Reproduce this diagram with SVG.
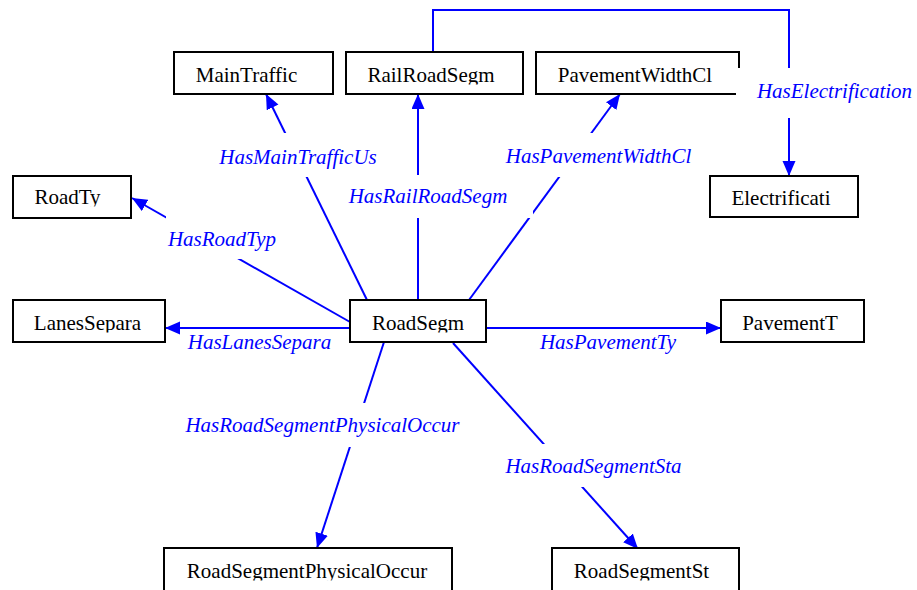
<svg xmlns="http://www.w3.org/2000/svg" width="917" height="590" viewBox="0 0 917 590">
<style>
.box{fill:#fff;stroke:#000;stroke-width:2}
.nt{font-family:"Liberation Serif","Times New Roman",serif;font-size:21px;fill:#000;text-anchor:middle}
.edge{fill:none;stroke:#0000ff;stroke-width:2}
.lb{font-family:"Liberation Serif","Times New Roman",serif;font-size:21px;font-style:italic;fill:#0000ff;text-anchor:middle}
.bg{fill:#fff}
</style>
<defs>
<marker id="ah" markerUnits="userSpaceOnUse" markerWidth="16" markerHeight="14" refX="15" refY="6.5" orient="auto">
<path d="M0,0 L15,6.5 L0,13 z" fill="#0000ff"/>
</marker>
<clipPath id="c1"><rect x="174" y="52" width="159" height="32.5"/></clipPath>
<clipPath id="c2"><rect x="346" y="52" width="177" height="32.5"/></clipPath>
<clipPath id="c3"><rect x="536" y="52" width="203" height="32.5"/></clipPath>
<clipPath id="c4"><rect x="710" y="176" width="148" height="31.5"/></clipPath>
<clipPath id="c5"><rect x="13" y="176" width="118" height="30.5"/></clipPath>
<clipPath id="c6"><rect x="13" y="300" width="152" height="32.5"/></clipPath>
<clipPath id="c7"><rect x="350" y="300" width="136" height="32.5"/></clipPath>
<clipPath id="c8"><rect x="721" y="300" width="143" height="32.5"/></clipPath>
<clipPath id="c9"><rect x="164" y="548" width="288" height="32.5"/></clipPath>
<clipPath id="c10"><rect x="552" y="548" width="187" height="32.5"/></clipPath>
</defs>
<rect width="917" height="590" fill="#fff"/>
<g id="connectors">
<path class="edge" d="M367,300 L266,94" marker-end="url(#ah)"/>
<path class="edge" d="M418,300 L418,94" marker-end="url(#ah)"/>
<path class="edge" d="M469,300 L620,94" marker-end="url(#ah)"/>
<path class="edge" d="M433,52 L433,10 L789,10 L789,176" marker-end="url(#ah)"/>
<path class="edge" d="M350,322 L132,198" marker-end="url(#ah)"/>
<path class="edge" d="M350,328 L165,328" marker-end="url(#ah)"/>
<path class="edge" d="M486,328 L721,328" marker-end="url(#ah)"/>
<path class="edge" d="M384,342 L317,548" marker-end="url(#ah)"/>
<path class="edge" d="M453,343 L638,549" marker-end="url(#ah)"/>
</g>
<g id="MainTraffic"><rect class="box" x="174" y="52" width="159" height="42"/><text class="nt" x="246.5" y="82" clip-path="url(#c1)">MainTraffic</text></g>
<g id="RailRoadSegm"><rect class="box" x="346" y="52" width="177" height="42"/><text class="nt" x="431" y="82" clip-path="url(#c2)">RailRoadSegm</text></g>
<g id="PavementWidthCl"><rect class="box" x="536" y="52" width="203" height="42"/><text class="nt" x="635" y="82" clip-path="url(#c3)">PavementWidthCl</text></g>
<g id="Electrificati"><rect class="box" x="710" y="176" width="148" height="41"/><text class="nt" x="781" y="205" clip-path="url(#c4)">Electrificati</text></g>
<g id="RoadTy"><rect class="box" x="13" y="176" width="118" height="42"/><text class="nt" x="67.5" y="204" clip-path="url(#c5)">RoadTy</text></g>
<g id="LanesSepara"><rect class="box" x="13" y="300" width="152" height="42"/><text class="nt" x="87.5" y="330" clip-path="url(#c6)">LanesSepara</text></g>
<g id="RoadSegm"><rect class="box" x="350" y="300" width="136" height="42"/><text class="nt" x="418" y="330" clip-path="url(#c7)">RoadSegm</text></g>
<g id="PavementT"><rect class="box" x="721" y="300" width="143" height="42"/><text class="nt" x="790" y="330" clip-path="url(#c8)">PavementT</text></g>
<g id="RoadSegmentPhysicalOccur"><rect class="box" x="164" y="548" width="288" height="50"/><text class="nt" x="307" y="578" clip-path="url(#c9)">RoadSegmentPhysicalOccur</text></g>
<g id="RoadSegmentSt"><rect class="box" x="552" y="548" width="187" height="50"/><text class="nt" x="641.5" y="578" clip-path="url(#c10)">RoadSegmentSt</text></g>
<g id="edge-labels">
<rect class="bg" x="215" y="133" width="166" height="44"/>
<text class="lb" x="298" y="164">HasMainTrafficUs</text>
<rect class="bg" x="345" y="175" width="188" height="43"/>
<text class="lb" x="428" y="203">HasRailRoadSegm</text>
<rect class="bg" x="501" y="133" width="196" height="44"/>
<text class="lb" x="598.5" y="163">HasPavementWidthCl</text>
<rect class="bg" x="736" y="68" width="181" height="50"/>
<text class="lb" x="834.5" y="98">HasElectrification</text>
<rect class="bg" x="166" y="216" width="114" height="43"/>
<text class="lb" x="222" y="246">HasRoadTyp</text>
<text class="lb" x="259.5" y="349">HasLanesSepara</text>
<text class="lb" x="608" y="349">HasPavementTy</text>
<rect class="bg" x="181" y="403" width="284" height="44"/>
<text class="lb" x="322.5" y="432">HasRoadSegmentPhysicalOccur</text>
<rect class="bg" x="503" y="444" width="182" height="43"/>
<text class="lb" x="593.5" y="473">HasRoadSegmentSta</text>
</g>
</svg>
